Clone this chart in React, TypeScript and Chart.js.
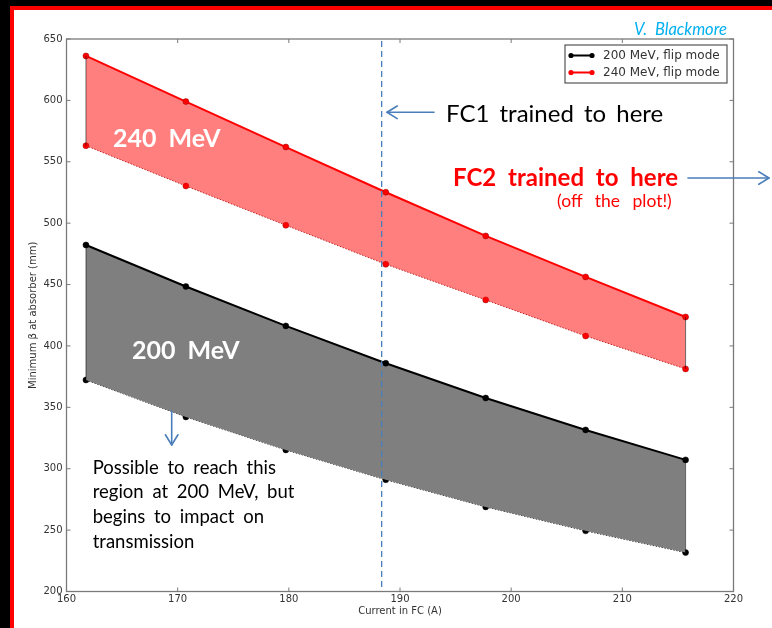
import React, { useEffect, useRef } from "react";
import { Chart, registerables } from "chart.js";

Chart.register(...registerables);

// ---- data ----
const currents = [161.75, 170.74, 179.73, 188.72, 197.71, 206.7, 215.69];
const upper200 = [482.2, 448.4, 416.3, 385.9, 357.6, 331.6, 307.2];
const lower200 = [372.3, 342.2, 315.3, 291.0, 268.9, 249.4, 231.7];
const upper240 = [636.2, 599.0, 562.0, 525.2, 489.6, 456.2, 423.6];
const lower240 = [563.1, 530.3, 498.3, 466.5, 437.5, 408.1, 381.3];
const seriesLabels = ["200 MeV, flip mode", "240 MeV, flip mode"];
const xTicks = [160, 170, 180, 190, 200, 210, 220];
const yTicks = [200, 250, 300, 350, 400, 450, 500, 550, 600, 650];
const fc1Current = 188.35;
const xTitle = "Current in FC (A)";
const yTitle = "Minimum \u03b2 at absorber (mm)";

const BLUE = "#4A7EBB";
const AXIS_FONT = "DejaVu Sans";

const pts = (ys: number[]) => currents.map((c, i) => ({ x: c, y: ys[i] }));

const decorPlugin = {
  id: "decor",
  afterDatasetsDraw(chart: any) {
    const { ctx, chartArea: a, scales } = chart;
    const x = scales.x;
    const y = scales.y;
    ctx.save();
    ctx.strokeStyle = "rgba(0,0,0,0.55)";
    ctx.lineWidth = 1;
    const edges: [number[], number[]][] = [
      [upper200, lower200],
      [upper240, lower240],
    ];
    edges.forEach(([u, l]) => {
      [0, currents.length - 1].forEach((i) => {
        const px = x.getPixelForValue(currents[i]);
        ctx.beginPath();
        ctx.moveTo(px, y.getPixelForValue(u[i]));
        ctx.lineTo(px, y.getPixelForValue(l[i]));
        ctx.stroke();
      });
    });
    const fx = x.getPixelForValue(fc1Current);
    ctx.strokeStyle = BLUE;
    ctx.lineWidth = 1.3;
    ctx.setLineDash([6, 4]);
    ctx.beginPath();
    ctx.moveTo(fx, a.top + 2);
    ctx.lineTo(fx, a.bottom);
    ctx.stroke();
    ctx.restore();
  },
  afterDraw(chart: any) {
    const { ctx, chartArea: a, scales } = chart;
    const x = scales.x;
    const y = scales.y;
    ctx.save();
    ctx.strokeStyle = "#7a7a7a";
    ctx.lineWidth = 1.3;
    ctx.strokeRect(a.left, a.top, a.right - a.left, a.bottom - a.top);
    ctx.lineWidth = 1;
    const tl = 4;
    xTicks.forEach((v) => {
      const px = x.getPixelForValue(v);
      ctx.beginPath();
      ctx.moveTo(px, a.bottom);
      ctx.lineTo(px, a.bottom - tl);
      ctx.moveTo(px, a.top);
      ctx.lineTo(px, a.top + tl);
      ctx.stroke();
    });
    yTicks.forEach((v) => {
      const py = y.getPixelForValue(v);
      ctx.beginPath();
      ctx.moveTo(a.left, py);
      ctx.lineTo(a.left + tl, py);
      ctx.moveTo(a.right, py);
      ctx.lineTo(a.right - tl, py);
      ctx.stroke();
    });
    const w = 162;
    const h = 38;
    const lx = a.right - 6.5 - w;
    const ly = a.top + 6;
    ctx.fillStyle = "#fff";
    ctx.fillRect(lx, ly, w, h);
    ctx.strokeStyle = "#555";
    ctx.lineWidth = 1.2;
    ctx.strokeRect(lx, ly, w, h);
    const colors = ["#000000", "#ff0000"];
    seriesLabels.forEach((lab, i) => {
      const ry = ly + 10.5 + i * 17;
      ctx.strokeStyle = colors[i];
      ctx.fillStyle = colors[i];
      ctx.lineWidth = 2;
      ctx.beginPath();
      ctx.moveTo(lx + 6, ry);
      ctx.lineTo(lx + 27, ry);
      ctx.stroke();
      [lx + 6, lx + 27].forEach((cx) => {
        ctx.beginPath();
        ctx.arc(cx, ry, 2.6, 0, Math.PI * 2);
        ctx.fill();
      });
      ctx.fillStyle = "#333";
      ctx.font = `12px "${AXIS_FONT}"`;
      ctx.textBaseline = "middle";
      ctx.textAlign = "left";
      ctx.fillText(lab, lx + 38, ry + 0.5);
    });
    ctx.restore();
  },
};

function Arrow({ x1, y1, x2, y2 }: { x1: number; y1: number; x2: number; y2: number }) {
  const ang = Math.atan2(y2 - y1, x2 - x1);
  const len = 12;
  const spread = 0.55;
  const ax = x2 - len * Math.cos(ang - spread);
  const ay = y2 - len * Math.sin(ang - spread);
  const bx = x2 - len * Math.cos(ang + spread);
  const by = y2 - len * Math.sin(ang + spread);
  return (
    <g stroke={BLUE} strokeWidth={1.6} fill="none" strokeLinecap="round" strokeLinejoin="round">
      <line x1={x1} y1={y1} x2={x2} y2={y2} />
      <polyline points={`${ax},${ay} ${x2},${y2} ${bx},${by}`} />
    </g>
  );
}

export default function App() {
  const ref = useRef<HTMLCanvasElement | null>(null);

  useEffect(() => {
    if (!ref.current) return;
    const tickFont = { family: AXIS_FONT, size: 10 };
    const chart = new Chart(ref.current, {
      type: "line",
      data: {
        datasets: [
          {
            label: seriesLabels[0],
            data: pts(upper200),
            borderColor: "#000000",
            borderWidth: 2,
            backgroundColor: "#7f7f7f",
            pointBackgroundColor: "#000000",
            pointBorderColor: "#000000",
            pointBorderWidth: 0.5,
            pointRadius: 3,
            fill: "+1",
            tension: 0,
          },
          {
            label: seriesLabels[0] + " (lower)",
            data: pts(lower200),
            borderColor: "#1a1a1a",
            borderWidth: 1,
            borderDash: [1.5, 1.5],
            backgroundColor: "#000000",
            pointBackgroundColor: "#000000",
            pointBorderColor: "#000000",
            pointBorderWidth: 0.5,
            pointRadius: 3,
            fill: false,
            tension: 0,
          },
          {
            label: seriesLabels[1],
            data: pts(upper240),
            borderColor: "#ff0000",
            borderWidth: 2,
            backgroundColor: "rgba(255,0,0,0.5)",
            pointBackgroundColor: "#ff0000",
            pointBorderColor: "#990000",
            pointBorderWidth: 0.5,
            pointRadius: 3,
            fill: "+1",
            tension: 0,
          },
          {
            label: seriesLabels[1] + " (lower)",
            data: pts(lower240),
            borderColor: "#b03030",
            borderWidth: 1,
            borderDash: [1.5, 1.5],
            backgroundColor: "#ff0000",
            pointBackgroundColor: "#ff0000",
            pointBorderColor: "#990000",
            pointBorderWidth: 0.5,
            pointRadius: 3,
            fill: false,
            tension: 0,
          },
        ],
      },
      options: {
        animation: false,
        responsive: false,
        layout: { padding: { left: 0, top: 39, right: 38.5, bottom: 0 } },
        plugins: { legend: { display: false }, tooltip: { enabled: false } },
        scales: {
          x: {
            type: "linear",
            min: 160,
            max: 220,
            afterBuildTicks: (s: any) => {
              s.ticks = xTicks.map((v) => ({ value: v }));
            },
            afterFit: (s: any) => {
              s.height = 36.5;
            },
            grid: { display: false, drawTicks: false },
            border: { display: false },
            ticks: {
              autoSkip: false,
              maxRotation: 0,
              padding: 2,
              color: "#333",
              font: tickFont,
            },
            title: {
              display: true,
              text: xTitle,
              color: "#333",
              font: tickFont,
              padding: { top: 0, bottom: 11 },
            },
          },
          y: {
            type: "linear",
            min: 200,
            max: 650,
            afterBuildTicks: (s: any) => {
              s.ticks = yTicks.map((v) => ({ value: v }));
            },
            afterFit: (s: any) => {
              s.width = 66.5;
            },
            grid: { display: false, drawTicks: false },
            border: { display: false },
            ticks: {
              autoSkip: false,
              padding: 4,
              color: "#333",
              font: tickFont,
            },
            title: {
              display: true,
              text: yTitle,
              color: "#333",
              font: tickFont,
              padding: { top: 27, bottom: 0 },
            },
          },
        },
      },
      plugins: [decorPlugin],
    } as any);
    return () => chart.destroy();
  }, []);

  return (
    <div
      style={{
        position: "absolute",
        left: 0,
        top: 0,
        width: 772,
        height: 628,
        overflow: "hidden",
        background: "#000",
      }}
    >
      <div
        style={{
          position: "absolute",
          left: 10,
          top: 6,
          width: 800,
          height: 700,
          background: "#fff",
          borderLeft: "4px solid #ff0000",
          borderTop: "4px solid #ff0000",
        }}
      />
      <canvas
        ref={ref}
        width={772}
        height={628}
        style={{ position: "absolute", left: 0, top: 0, width: 772, height: 628 }}
      />
      <svg
        width={772}
        height={628}
        style={{ position: "absolute", left: 0, top: 0, pointerEvents: "none" }}
        fontFamily="Lato"
      >
        <text x={634} y={35} fontSize={16.5} fontStyle="italic" fill="#00B0F0" wordSpacing={4}>
          V. Blackmore
        </text>
        <text x={446} y={121.7} fontSize={24} fill="#000" wordSpacing={4}>
          FC1 trained to here
        </text>
        <text x={453} y={186} fontSize={24} fontWeight="bold" fill="#ff0000" wordSpacing={6}>
          FC2 trained to here
        </text>
        <text x={557} y={207} fontSize={17.5} fill="#ff0000" wordSpacing={8}>
          (off the plot!)
        </text>
        <text x={113} y={147} fontSize={25} fontWeight="bold" fill="#ffffff" wordSpacing={6}>
          240 MeV
        </text>
        <text x={132} y={359} fontSize={25} fontWeight="bold" fill="#ffffff" wordSpacing={6}>
          200 MeV
        </text>
        <g fontSize={18.5} fill="#000">
          <text x={92.7} y={474} wordSpacing={4}>Possible to reach this</text>
          <text x={92.7} y={498} wordSpacing={4}>region at 200 MeV, but</text>
          <text x={92.7} y={523} wordSpacing={4}>begins to impact on</text>
          <text x={92.7} y={548} wordSpacing={4}>transmission</text>
        </g>
        <Arrow x1={434} y1={112.3} x2={387} y2={112.3} />
        <Arrow x1={688} y1={178} x2={769} y2={178} />
        <Arrow x1={171.7} y1={411} x2={171.7} y2={445} />
      </svg>
    </div>
  );
}
